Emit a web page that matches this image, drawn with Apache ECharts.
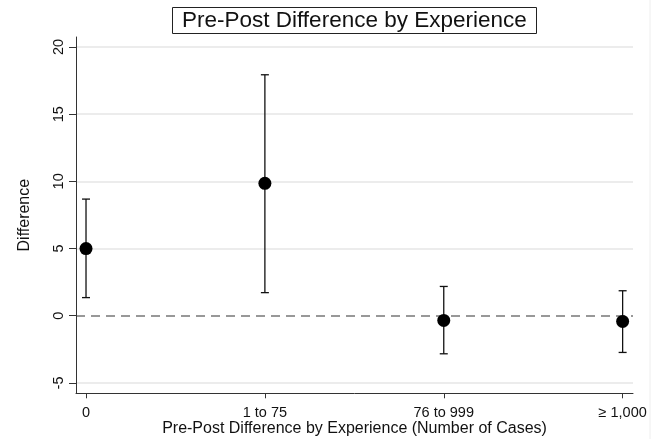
<!DOCTYPE html>
<html><head><meta charset="utf-8">
<script src="https://cdn.jsdelivr.net/npm/echarts@6/dist/echarts.min.js"></script>
<style>html,body{margin:0;padding:0;background:#fff}#c{width:660px;height:439px}</style>
</head><body><div id="c"></div>
<script>
var categories = ["0", "1 to 75", "76 to 999", "\u2265 1,000"];
var estimates = [5.0, 9.85, -0.35, -0.42];
var lowerCI = [1.35, 1.72, -2.83, -2.73];
var upperCI = [8.68, 17.93, 2.18, 1.86];
var yTicks = [-5, 0, 5, 10, 15, 20];
var xTicks = [0, 1, 2, 3];

var FONT = 'Liberation Sans, Arial, sans-serif';
var chart = echarts.init(document.getElementById('c'));

var pointData = estimates.map(function (v, i) { return [i, v]; });
var barData = estimates.map(function (v, i) { return [i, lowerCI[i], upperCI[i]]; });
var gridLines = yTicks.filter(function (t) { return t !== 0; }).map(function (t) { return { yAxis: t }; });

chart.setOption({
  animation: false,
  backgroundColor: '#fff',
  title: {
    text: 'Pre-Post Difference by Experience',
    left: 172, top: 7,
    padding: [2, 10, 2, 10],
    borderWidth: 1, borderColor: '#222',
    textStyle: { fontFamily: FONT, fontSize: 22.5, fontWeight: 'normal', color: '#111' }
  },
  grid: { left: 76, right: 27, top: 37, bottom: 45.7, outerBoundsMode: 'none', containLabel: false },
  xAxis: {
    type: 'value', min: -0.056, max: 3.058,
    name: 'Pre-Post Difference by Experience (Number of Cases)',
    nameLocation: 'middle', nameGap: 27, nameMoveOverlap: false,
    nameTextStyle: { fontFamily: FONT, fontSize: 16, color: '#111' },
    axisLine: { show: true, onZero: false, lineStyle: { color: '#333', width: 1 } },
    axisTick: { show: true, length: 5, customValues: xTicks, lineStyle: { color: '#333' } },
    axisLabel: {
      customValues: xTicks, margin: 12,
      fontFamily: FONT, fontSize: 14.5, color: '#111',
      formatter: function (v) { return categories[Math.round(v)]; }
    },
    splitLine: { show: false }
  },
  yAxis: {
    type: 'value', min: -5.77, max: 20.74,
    name: 'Difference', nameLocation: 'middle', nameGap: 43, nameMoveOverlap: false,
    nameTextStyle: { fontFamily: FONT, fontSize: 16, color: '#111' },
    axisLine: { show: true, onZero: false, lineStyle: { color: '#333', width: 1 } },
    axisTick: { show: true, length: 7, customValues: yTicks, lineStyle: { color: '#333' } },
    axisLabel: {
      customValues: yTicks, rotate: 90, margin: 10,
      fontFamily: FONT, fontSize: 14.5, color: '#111'
    },
    splitLine: { show: false }
  },
  series: [
    {
      type: 'line', data: [], silent: true, z: 0,
      markLine: {
        silent: true, symbol: 'none', label: { show: false }, z: 0,
        lineStyle: { color: '#e6e6e6', width: 1.5, type: 'solid' },
        data: gridLines
      }
    },
    {
      type: 'line', data: [], silent: true, z: 0,
      markLine: {
        silent: true, symbol: 'none', label: { show: false }, z: 0,
        lineStyle: { color: '#777', width: 1.5, type: [9, 6] },
        data: [{ yAxis: 0 }]
      }
    },
    {
      type: 'custom',
      data: barData,
      renderItem: function (params, api) {
        var x = api.value(0);
        var lo = api.coord([x, api.value(1)]);
        var hi = api.coord([x, api.value(2)]);
        var cap = 4;
        var style = { stroke: '#111', lineWidth: 1.3 };
        return {
          type: 'group',
          children: [
            { type: 'line', shape: { x1: lo[0], y1: lo[1], x2: hi[0], y2: hi[1] }, style: style },
            { type: 'line', shape: { x1: lo[0] - cap, y1: lo[1], x2: lo[0] + cap, y2: lo[1] }, style: style },
            { type: 'line', shape: { x1: hi[0] - cap, y1: hi[1], x2: hi[0] + cap, y2: hi[1] }, style: style }
          ]
        };
      },
      z: 10
    },
    {
      type: 'scatter', data: pointData, symbol: 'circle', symbolSize: 13,
      itemStyle: { color: '#000', opacity: 1 }, z: 20
    }
  ],
  graphic: [
    { type: 'line', shape: { x1: 650, y1: 0, x2: 650, y2: 439 }, style: { stroke: '#eeeeee', lineWidth: 1 } }
  ]
});
</script>
</body></html>
